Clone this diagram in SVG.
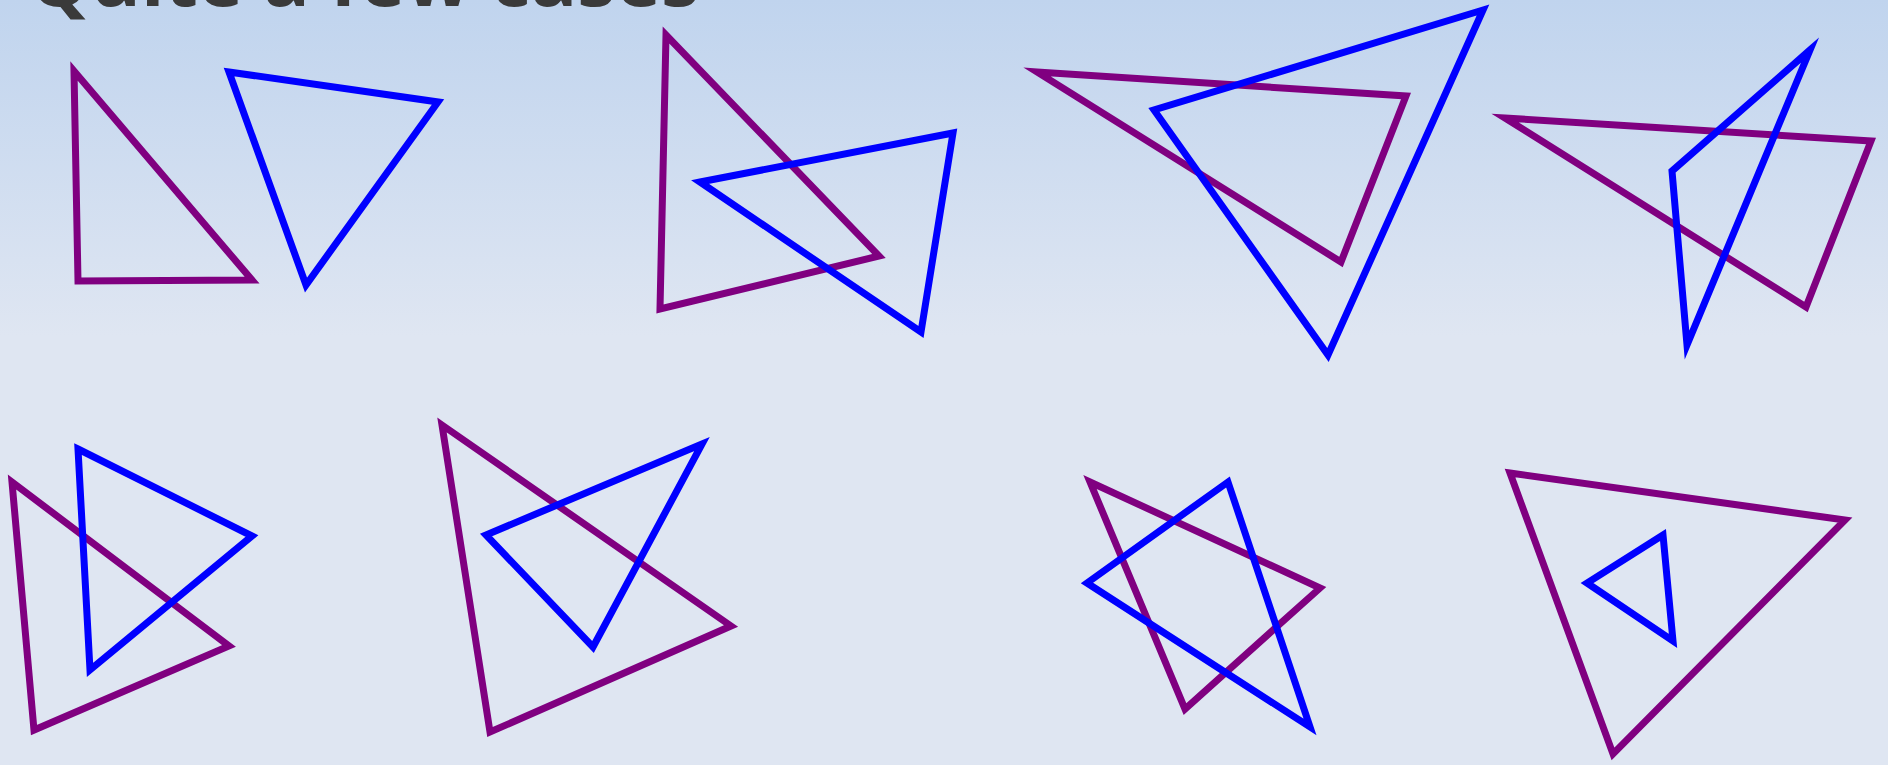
<svg xmlns="http://www.w3.org/2000/svg" width="1888" height="765" viewBox="0 0 1888 765">
  <defs>
    <linearGradient id="bg" x1="0" y1="0" x2="0" y2="1">
      <stop offset="0" stop-color="#c0d4ee"/>
      <stop offset="0.44" stop-color="#dfe6f2"/>
      <stop offset="1" stop-color="#dfe6f2"/>
    </linearGradient>
    <style>
      .p { fill: none; stroke: #800080; stroke-width: 7; stroke-miterlimit: 10; }
      .b { fill: none; stroke: #0000ff; stroke-width: 7; stroke-miterlimit: 10; }
      .title { font-family: "Open Sans", "Noto Sans", "DejaVu Sans", sans-serif; font-weight: bold; font-size: 77px; fill: #3a3a3a; }
    </style>
  </defs>
  <rect x="0" y="0" width="1888" height="765" fill="url(#bg)"/>
  <text class="title" x="29" y="6">Quite a few cases</text>
  <g id="case1">
    <polygon class="p" points="74,71 252,280 78,281"/>
    <polygon class="b" points="229,72 438,102 306,285"/>
  </g>
  <g id="case2">
    <polygon class="p" points="666,35 879,256 660,309"/>
    <polygon class="b" points="700,182 953,133 921,332"/>
  </g>
  <g id="case3">
    <polygon class="p" points="1037,72 1406,96 1341,262"/>
    <polygon class="b" points="1483,10 1154,110 1328,355"/>
  </g>
  <g id="case4">
    <polygon class="p" points="1505,118 1871,141 1806,307"/>
    <polygon class="b" points="1810,50 1672,171 1687,345"/>
  </g>
  <g id="case5">
    <polygon class="p" points="12,482 229,646 34,730"/>
    <polygon class="b" points="78,449 252,536 90,670"/>
  </g>
  <g id="case6">
    <polygon class="p" points="442,425 731,626 490,732"/>
    <polygon class="b" points="702,444 486,535 593,647"/>
  </g>
  <g id="case7">
    <polygon class="p" points="1090,482 1320,588 1185,709"/>
    <polygon class="b" points="1228,482 1087,583 1310,727"/>
  </g>
  <g id="case8">
    <polygon class="p" points="1510,473 1845,520 1613,754"/>
    <polygon class="b" points="1663,535 1587,583 1673,641"/>
  </g>
</svg>
